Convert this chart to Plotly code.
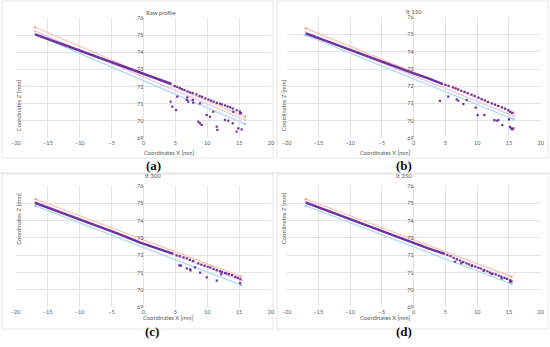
import plotly.graph_objects as go

W, H = 550, 347

# ---------------- data ----------------
titles = ["Raw profile", "It 150", "It 300", "It 350"]
panel_labels = ["(a)", "(b)", "(c)", "(d)"]
x_ticks = [-20, -15, -10, -5, 0, 5, 10, 15, 20]
z_ticks = [69, 70, 71, 72, 73, 74, 75, 76]

# fitted reference lines: [x_start, x_end], [z_start, z_end]
upper_x = [[-17, 15.9], [-17, 15.75], [-16.9, 15.3], [-17, 15.4]]
upper_z = [[75.46, 70.24], [75.36, 70.47], [75.25, 70.77], [75.25, 70.77]]
mid_x = [[-17, 15.9], [-17, 15.75], [-16.9, 15.3], [-17, 15.4]]
mid_z = [[75.24, 70.05], [75.13, 70.27], [75.10, 70.55], [75.10, 70.55]]
lower_x = [[-17, 15.9], [-17, 15.75], [-16.9, 15.3], [-17, 15.4]]
lower_z = [[75.05, 69.82], [74.97, 70.08], [74.85, 70.29], [74.85, 70.35]]

# dense part of the measured profile
band_x = [
    [-17, -12, -8, -4, 0, 2, 4.4],
    [-17, -12, -8, -3, 0, 2.3, 4.6],
    [-17, -12, -8, -4, -0.5, 2.1, 4.7],
    [-17, -12, -8, -3, 0, 2.3, 4.9],
]
band_z = [
    [75.05, 74.37, 73.82, 73.27, 72.75, 72.48, 72.15],
    [75.07, 74.38, 73.83, 73.12, 72.75, 72.46, 72.13],
    [75.02, 74.34, 73.80, 73.25, 72.73, 72.40, 72.08],
    [75.04, 74.35, 73.80, 73.12, 72.71, 72.40, 72.08],
]

# sparse profile points along the band
dots_x = [
    [4.9, 5.3, 5.7, 6.0, 6.4, 6.9, 7.3, 7.7, 8.3, 8.8, 9.2, 9.7, 10.2, 10.6, 11.0, 11.5,
     12.0, 12.3, 12.8, 13.2, 13.6, 14.0, 14.6, 15.1, 15.3],
    [5.0, 5.5, 6.2, 6.6, 7.0, 7.5, 8.0, 8.5, 9.1, 9.6, 10.2, 10.7, 11.2, 11.7, 12.3, 12.8,
     13.3, 13.9, 14.4, 14.9, 15.2, 15.5],
    [5.2, 5.7, 6.3, 6.8, 7.3, 7.8, 8.6, 9.1, 9.6, 10.1, 10.5, 11.0, 11.5, 12.0, 12.3, 12.8,
     13.4, 13.9, 14.4, 14.8, 15.2],
    [5.3, 5.8, 6.3, 6.8, 7.3, 7.8, 8.3, 8.7, 9.2, 9.7, 10.2, 10.6, 11.1, 11.6, 12.0, 12.4,
     12.9, 13.4, 13.8, 14.3, 14.7, 15.2, 15.4],
]
dots_z = [
    [72.03, 71.98, 71.92, 71.85, 71.80, 71.72, 71.66, 71.62, 71.55, 71.45, 71.40, 71.31, 71.24,
     71.18, 71.12, 71.05, 71.00, 70.96, 70.90, 70.84, 70.79, 70.72, 70.62, 70.55, 70.45],
    [72.08, 72.02, 71.94, 71.88, 71.82, 71.74, 71.68, 71.60, 71.51, 71.44, 71.34, 71.26, 71.18,
     71.10, 71.01, 70.94, 70.86, 70.78, 70.70, 70.60, 70.52, 70.45],
    [72.00, 71.95, 71.88, 71.83, 71.74, 71.67, 71.54, 71.46, 71.40, 71.34, 71.30, 71.22, 71.15,
     71.08, 71.05, 70.98, 70.92, 70.86, 70.76, 70.70, 70.62],
    [72.02, 71.96, 71.86, 71.77, 71.70, 71.62, 71.54, 71.48, 71.42, 71.35, 71.28, 71.24, 71.16,
     71.08, 71.00, 70.95, 70.90, 70.82, 70.77, 70.70, 70.64, 70.56, 70.50],
]

# outlying points below the band
out_x = [
    [4.26, 4.52, 5.1, 5.3, 6.78, 6.88, 7.03, 7.72, 7.8, 8.86, 8.6, 8.86, 9.13, 9.91, 10.43,
     10.95, 11.48, 11.58, 12.78, 13.3, 14.0, 14.09, 14.6, 14.87, 15.14, 15.4],
    [4.14, 5.45, 6.77, 7.03, 7.82, 8.35, 9.76, 10.08, 11.12, 12.7, 13.07, 13.32, 13.95, 15.0,
     15.17, 15.33, 15.53, 15.69],
    [5.64, 5.9, 6.8, 7.32, 7.4, 8.1, 8.9, 9.94, 11.5, 12.2, 13.0, 15.16],
    [6.5, 7.5, 9.13, 11.0, 12.3, 13.86, 15.17],
]
out_z = [
    [71.12, 70.83, 70.63, 71.41, 71.22, 71.37, 71.12, 71.22, 71.06, 71.02, 69.95, 69.86, 69.76,
     70.34, 70.24, 70.53, 69.66, 69.47, 70.05, 70.01, 69.86, 70.53, 69.37, 69.56, 70.44, 69.50],
    [71.15, 71.40, 71.24, 71.16, 70.97, 71.20, 70.76, 70.33, 70.33, 70.04, 70.00, 70.04, 69.75,
     70.08, 69.65, 69.56, 69.50, 69.56],
    [71.42, 71.40, 71.25, 71.19, 71.13, 71.30, 71.00, 70.73, 70.54, 70.90, 70.95, 70.39],
    [71.63, 71.55, 71.38, 71.10, 70.92, 70.67, 70.48],
]

# ---------------- styling ----------------
PURPLE = "#7030A0"
UPPER = "#F9C3B3"
UPPER_M = "#F4A06E"
MID = "#E9C4E4"
LOWER = "#AEDAF0"
LOWER_M = "#8EC7E8"
GRID = "#E4E4E4"
TXT = "#595959"
FONT = "Lato"

# plot-area positions in pixels (left, right, top, bottom)
areas = [
    (16, 271, 18, 138),
    (286.7, 540.7, 17.3, 138),
    (15.7, 271, 186, 307.3),
    (286.7, 540.7, 186, 307.3),
]
frames = [(2, 273, 1, 158), (277, 548, 1, 158), (2, 273, 174, 329), (277, 548, 174, 329)]
title_dx = [0, 10, 0, 0]
xtitle_y = [152, 152, 322.5, 322.5]
label_y = [166, 166, 341, 341]

fig = go.Figure()
layout = dict(
    width=W, height=H, margin=dict(l=0, r=0, t=0, b=0, pad=0),
    paper_bgcolor="white", plot_bgcolor="white", showlegend=False,
    font=dict(family=FONT, color=TXT), hovermode=False,
)
annotations = []
shapes = []

def px2fx(p):
    return p / W

def py2fy(p):
    return 1 - p / H

for i in range(4):
    n = "" if i == 0 else str(i + 1)
    xa, ya = "x" + n, "y" + n
    l, r, t, b = areas[i]
    xdom = [px2fx(l), px2fx(r)]
    ydom = [py2fy(b), py2fy(t)]
    zero_pos = xdom[0] + (xdom[1] - xdom[0]) * 0.5

    layout["xaxis" + n] = dict(
        domain=xdom, anchor=ya, range=[-20, 20], tickvals=x_ticks,
        showgrid=True, gridcolor=GRID, gridwidth=1, zeroline=False,
        showline=False, ticks="", tickfont=dict(size=5.5, color=TXT, family=FONT),
        automargin=False,
    )
    layout["yaxis" + n] = dict(
        domain=ydom, anchor="free", position=zero_pos, range=[69, 76], tickvals=z_ticks,
        showgrid=True, gridcolor=GRID, gridwidth=1, zeroline=False,
        showline=False, ticks="", tickfont=dict(size=5.5, color=TXT, family=FONT),
        automargin=False,
    )

    # reference lines
    for lx, lz, col, mcol in [
        (upper_x[i], upper_z[i], UPPER, UPPER_M),
        (mid_x[i], mid_z[i], MID, MID),
        (lower_x[i], lower_z[i], LOWER, LOWER_M),
    ]:
        fig.add_trace(go.Scatter(
            x=lx, y=lz, mode="lines+markers", xaxis=xa, yaxis=ya,
            line=dict(color=col, width=1.3),
            marker=dict(color=mcol, size=2.2, symbol="square"),
        ))

    # profile
    fig.add_trace(go.Scatter(
        x=band_x[i], y=band_z[i], mode="lines", xaxis=xa, yaxis=ya,
        line=dict(color=PURPLE, width=2.4),
    ))
    fig.add_trace(go.Scatter(
        x=dots_x[i] + out_x[i], y=dots_z[i] + out_z[i], mode="markers", xaxis=xa, yaxis=ya,
        marker=dict(color=PURPLE, size=2.2, symbol="square"),
    ))

    cx = (l + r) / 2
    # chart title
    annotations.append(dict(
        text=titles[i], x=px2fx(cx + title_dx[i]), y=py2fy(t - 11), xref="paper",
        yref="paper", showarrow=False, font=dict(size=6, color=TXT, family=FONT),
    ))
    # x axis title
    annotations.append(dict(
        text="Coordinates X [mm]", x=px2fx(cx - 2), y=py2fy(xtitle_y[i]), xref="paper",
        yref="paper", showarrow=False, font=dict(size=5.8, color=TXT, family=FONT),
    ))
    # y axis title
    annotations.append(dict(
        text="Coordinates Z [mm]", x=px2fx(l - 3), y=py2fy((t + b) / 2), xref="paper",
        yref="paper", showarrow=False, textangle=-90,
        font=dict(size=6, color=TXT, family=FONT),
    ))
    # panel label
    annotations.append(dict(
        text="<b>" + panel_labels[i] + "</b>", x=px2fx(cx), y=py2fy(label_y[i]),
        xref="paper", yref="paper", showarrow=False,
        font=dict(size=13, color="#111111", family="Liberation Serif"),
    ))

    fl, fr, ft, fb = frames[i]
    shapes.append(dict(
        type="rect", xref="paper", yref="paper",
        x0=px2fx(fl), x1=px2fx(fr), y0=py2fy(fb), y1=py2fy(ft),
        line=dict(color="#E6E6E6", width=1), layer="below",
    ))

shapes.append(dict(type="line", xref="paper", yref="paper", x0=0, x1=1,
                   y0=py2fy(173), y1=py2fy(173), line=dict(color="#E0E0E0", width=1)))

layout["annotations"] = annotations
layout["shapes"] = shapes
fig.update_layout(**layout)
fig.write_html(
    "out.html",
    config={"displayModeBar": False, "staticPlot": True},
    post_script="document.body.style.margin='0';document.body.style.overflow='hidden';"
                "document.documentElement.style.overflow='hidden';",
)
